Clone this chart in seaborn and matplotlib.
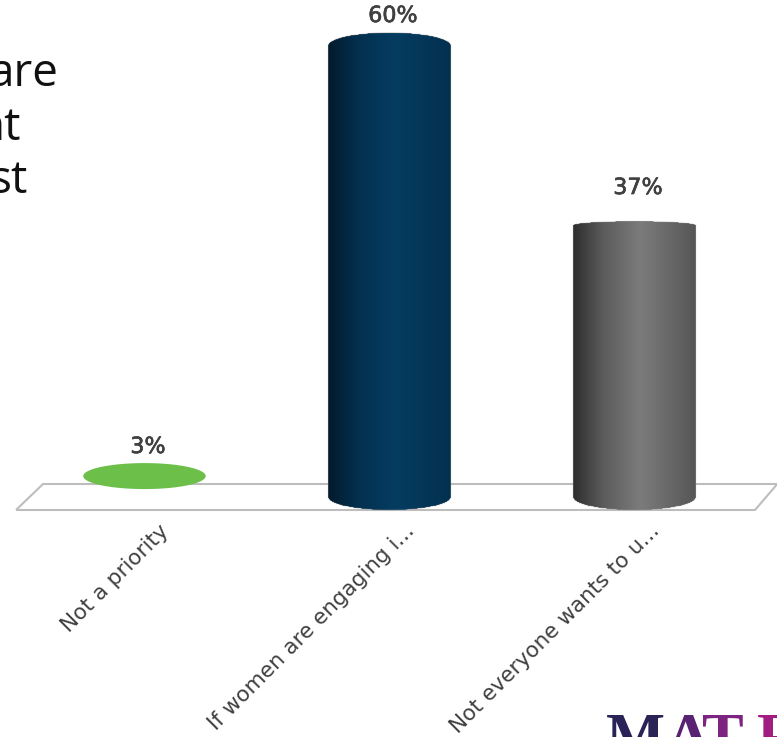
import numpy as np
import matplotlib
matplotlib.use("Agg")
import matplotlib.pyplot as plt
import matplotlib.patheffects as pe
from matplotlib.colors import LinearSegmentedColormap
from matplotlib.path import Path
from matplotlib.patches import PathPatch
from matplotlib.transforms import IdentityTransform, ScaledTranslation
import pandas as pd
import seaborn as sns

categories = ["Not a priority", "If women are engaging i...", "Not everyone wants to u..."]
values = [3, 60, 37]
value_labels = ["3%", "60%", "37%"]
bar_colors = ["#6cc04a", "#03355a", "#6e6e6e"]
heading_fragments = ["are", "nt", "st"]
logo_letters = ["M", "A", "T", "R"]
logo_colors = ["#2a2358", "#5a2272", "#7c2480", "#a11d80"]

# Slightly expanded vertical scale, as in a perspective 3-D column chart
POWER = 1.05
GAIN = 6.13
BASE_PX = 497
AX_BOTTOM_PX = 511
W, H = 777, 737


def forward(v):
    v = np.asarray(v, dtype=float)
    return np.sign(v) * np.abs(v) ** POWER


def inverse(v):
    v = np.asarray(v, dtype=float)
    return np.sign(v) * np.abs(v) ** (1 / POWER)


sns.set_theme(style="white")
plt.rcParams["font.family"] = ["DejaVu Sans"]

fig = plt.figure(figsize=(W / 100, H / 100), dpi=100, facecolor="white")
ax = fig.add_axes([0, (H - AX_BOTTOM_PX) / H, 1, AX_BOTTOM_PX / H])

frame = pd.DataFrame({"category": categories, "value": values})
sns.barplot(data=frame, x="category", y="value", hue="category",
            palette=bar_colors, width=0.5, legend=False, ax=ax, zorder=3)

ax.set_yscale("function", functions=(forward, inverse))
ax.set_xlim(-144.5 / 245, (W - 144.5) / 245)
ax.set_ylim(-float(inverse((AX_BOTTOM_PX - BASE_PX) / GAIN)), float(inverse(BASE_PX / GAIN)))
ax.set_xlabel("")
ax.set_ylabel("")
ax.yaxis.set_visible(False)
ax.patch.set_alpha(0)
sns.despine(ax=ax, left=True, bottom=True, top=True, right=True)


def px(x, y):
    """Figure pixels measured from the top-left corner to display coordinates."""
    return (x, H - y)


# Floor of the chart: an open parallelogram behind the columns
floor = [[(16, 510), (755, 510), (779, 482)], [(16, 510), (43, 484), (779, 484)]]
for run in floor:
    xy = [px(*p) for p in run]
    ax.add_patch(PathPatch(Path(xy), fill=False, edgecolor="#bdbdbd", lw=1.5,
                           transform=IdentityTransform(), clip_on=False, zorder=1))


def ellipse_points(cx, cy, rx, ry, a0, a1, n=120):
    t = np.radians(np.linspace(a0, a1, n))
    return np.column_stack([cx + rx * np.cos(t), cy + ry * np.sin(t)])


def shade(edge, mid, light, far):
    return LinearSegmentedColormap.from_list("column", [
        (0.0, edge), (0.25, mid), (0.55, light), (1.0, far)])


column_maps = [None,
               shade("#021a2c", "#03304f", "#043c60", "#03304f"),
               shade("#2e2e2e", "#5c5c5c", "#7b7b7b", "#565656")]
cap_ry = [13, 13, 4]

for i, patch in enumerate(list(ax.patches)[:3]):
    patch.set_visible(False)
    x0, x1 = patch.get_x(), patch.get_x() + patch.get_width()
    top = values[i]
    (dx0, dy0), (dx1, dy1) = ax.transData.transform([(x0, 0), (x1, top)])
    cx, rx = (dx0 + dx1) / 2, (dx1 - dx0) / 2
    ry = cap_ry[i]
    if column_maps[i] is None:
        # A very small share is shown as a flat disc floating at its level
        disc = ellipse_points(cx, dy1 + 1.5, rx, ry, 0, 360)
        ax.add_patch(PathPatch(Path(disc, closed=True), facecolor=bar_colors[i], edgecolor="none",
                               transform=IdentityTransform(), zorder=4))
        continue
    outline = np.vstack([ellipse_points(cx, dy0, rx, 13, 180, 360),
                         ellipse_points(cx, dy1, rx, ry, 0, 180)])
    clip = Path(np.vstack([outline, outline[:1]]), closed=True)
    xs = np.linspace(x0, x1, 201)
    mesh = ax.pcolormesh(xs, [-5, top * 1.1], np.linspace(0, 1, 200)[None, :],
                         cmap=column_maps[i], shading="flat", zorder=4)
    mesh.set_clip_path(clip, IdentityTransform())
    # Soft rim to smooth the clipped edge
    ax.add_patch(PathPatch(clip, fill=False, edgecolor="#9a9a9a", lw=0.7, alpha=0.4,
                           transform=IdentityTransform(), zorder=5, clip_on=False))

# Value labels above each column
label_px = [(148, 447), (393, 16), (638, 188)]
for text, (lx, ly) in zip(value_labels, label_px):
    fig.text(lx / W, 1 - ly / H, text, ha="center", va="center", fontsize=16, color="#404040",
             path_effects=[pe.withStroke(linewidth=0.5, foreground="#404040")])

# Slanted category labels, shifted right of their ticks
ax.tick_params(axis="x", length=0, pad=7)
ax.set_xticks(range(3))
ax.set_xticklabels(categories, rotation=45, ha="right", rotation_mode="anchor",
                   fontsize=15.5, color="#404040")
shift = ScaledTranslation(14.5 / 100, 0, fig.dpi_scale_trans)
for tick in ax.get_xticklabels():
    tick.set_transform(tick.get_transform() + shift)

# Tail of the slide heading, running off the left edge
for text, right, base in zip(heading_fragments, [59, 21, 28], [86, 140, 193]):
    fig.text(right / W, 1 - base / H, text, ha="right", va="baseline",
             fontsize=33, color="#111111", family="Open Sans")

# Brand wordmark cut off by the bottom edge
for letter, color, left in zip(logo_letters, logo_colors, [606, 665, 702, 757]):
    fig.text(left / W, 1 - 757 / H, letter, ha="left", va="baseline", fontsize=45,
             fontweight="bold", color=color, family="Liberation Serif")

fig.savefig("out.png", dpi=100, facecolor="white")
